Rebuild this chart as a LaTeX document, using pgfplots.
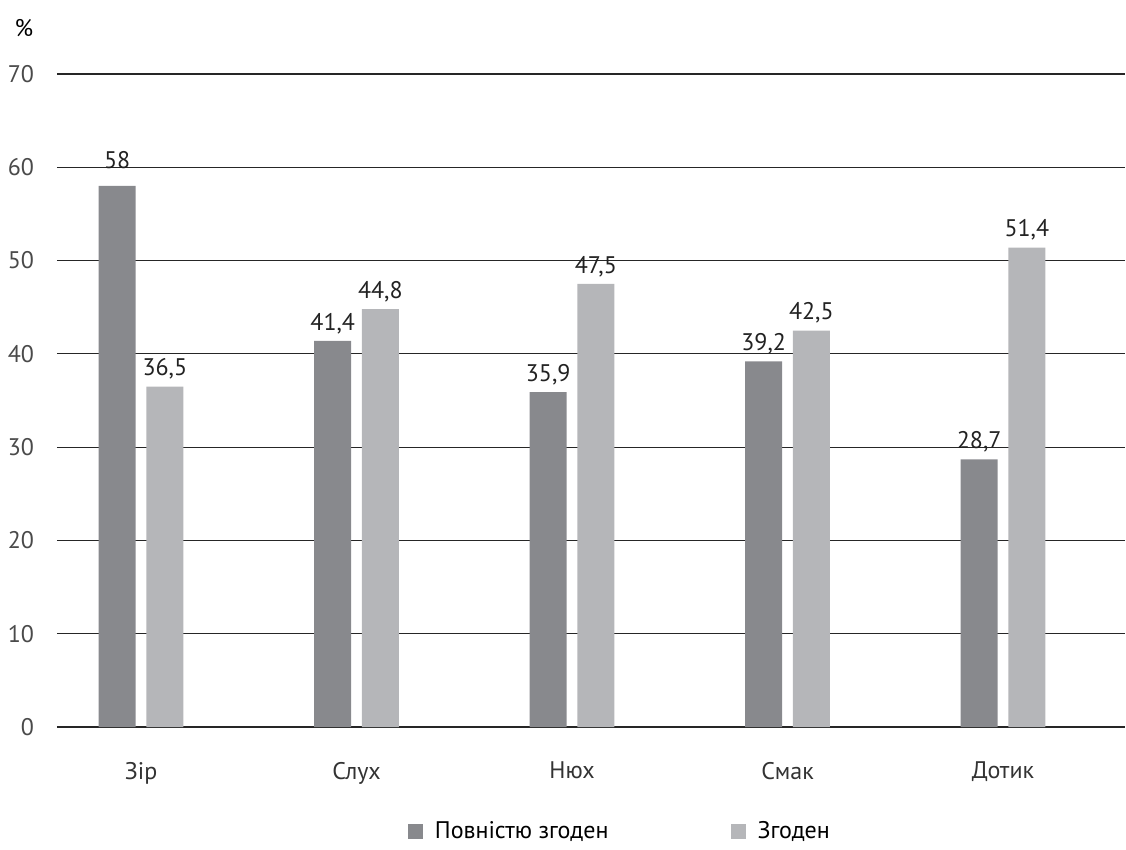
\documentclass[border=0pt]{standalone}
\usepackage{pgfplots}
\pgfplotsset{compat=1.18}
\usepackage{fontspec}
\setmainfont{PT Sans}
\definecolor{bardark}{HTML}{88898D}
\definecolor{barlight}{HTML}{B5B6B9}
\definecolor{ticktext}{HTML}{4A4A4A}
\definecolor{valtext}{HTML}{222222}
\begin{document}
\begin{tikzpicture}
\path (-28.5pt,-57pt) rectangle (534.5pt,363.5pt);
\begin{axis}[
  at={(0,0)}, anchor=south west,
  scale only axis,
  width=534pt, height=326.5pt,
  ybar,
  ymin=0, ymax=70,
  xmin=-0.39, xmax=4.566,
  ytick={0,10,...,70},
  xtick={0,1,2,3,4},
  xticklabels={Зір,Слух,Нюх,Смак,Дотик},
  major tick length=0pt,
  axis line style={draw=none},
  ymajorgrids,
  grid style={draw=black!85, line width=0.6pt},
  font=\fontsize{12}{14}\selectfont,
  /pgf/number format/assume math mode=true,
  yticklabel style={text=ticktext, anchor=east, xshift=-8pt},
  xticklabel style={text=black!80, yshift=-14pt},
  visualization depends on=rawy\as\rawy,
  nodes near coords,
  nodes near coords style={text=valtext, font=\fontsize{12}{14}\selectfont,
    /pgf/number format/fixed, /pgf/number format/precision=1,
    /pgf/number format/use comma, /pgf/number format/assume math mode=true,
    anchor=south, yshift={(\rawy>55)*5pt}},
  bar width=18.5pt,
  legend style={draw=none, fill=none, at={(0.528,-52pt)}, anchor=center,
    legend columns=2, font=\fontsize{12}{14}\selectfont,
    /tikz/every odd column/.append style={column sep=4pt},
    /tikz/every even column/.append style={column sep=59pt}},
  legend cell align=left,
  legend image code/.code={\fill[#1] (0pt,-3.75pt) rectangle (7.5pt,3.75pt);},
  clip=false,
]
\addplot[fill=bardark, draw=none, bar shift=-11.9pt] coordinates {
  (0,58) (1,41.4) (2,35.9) (3,39.2) (4,28.7)};
\addlegendentry{Повністю згоден}
\addplot[fill=barlight, draw=none, bar shift=11.9pt] coordinates {
  (0,36.5) (1,44.8) (2,47.5) (3,42.5) (4,51.4)};
\addlegendentry{Згоден}
\node[font=\fontsize{12}{14}\selectfont, text=black] at (rel axis cs:-0.0309,1.0704) {\%};
\end{axis}
\end{tikzpicture}
\end{document}
